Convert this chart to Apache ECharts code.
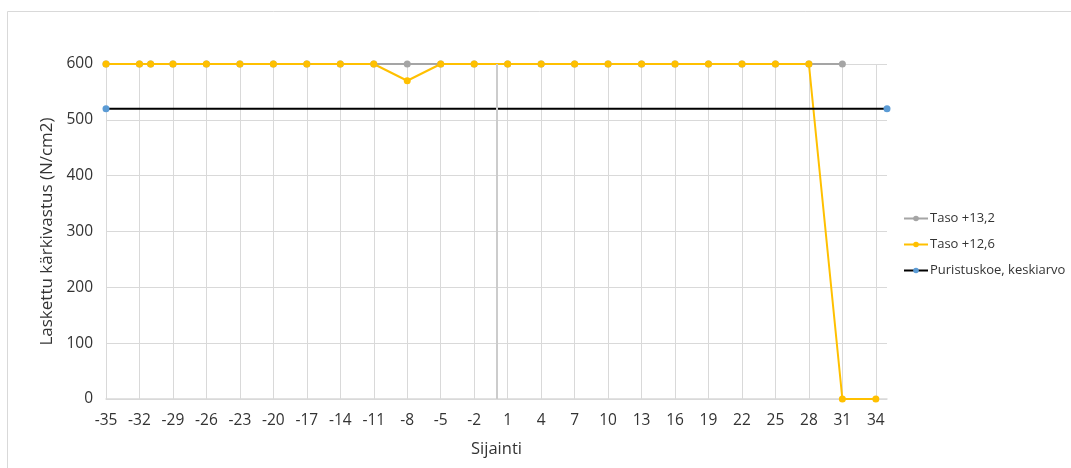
<!DOCTYPE html>
<html>
<head>
<meta charset="utf-8">
<script src="https://cdn.jsdelivr.net/npm/echarts@6/dist/echarts.min.js"></script>
<style>
  html, body { margin: 0; padding: 0; background: #fff; }
  #chart { width: 1071px; height: 468px; }
</style>
</head>
<body>
<div id="chart"></div>
<script>
// Sijainti positions and calculated tip resistance per level
const positionsUpper = [-35, -32, -31, -29, -26, -23, -20, -17, -14, -11, -8, -5, -2, 1, 4, 7, 10, 13, 16, 19, 22, 25, 28, 31];
const valuesUpper    = [600, 600, 600, 600, 600, 600, 600, 600, 600, 600, 600, 600, 600, 600, 600, 600, 600, 600, 600, 600, 600, 600, 600, 600];
const positionsLower = [-35, -32, -31, -29, -26, -23, -20, -17, -14, -11, -8, -5, -2, 1, 4, 7, 10, 13, 16, 19, 22, 25, 28, 31, 34];
const valuesLower    = [600, 600, 600, 600, 600, 600, 600, 600, 600, 600, 570, 600, 600, 600, 600, 600, 600, 600, 600, 600, 600, 600, 600, 0, 0];
const positionsTest  = [-35, 35];
const valuesTest     = [520, 520];

const seriesNames = ['Taso +13,2', 'Taso +12,6', 'Puristuskoe, keskiarvo'];
const xAxisTitle = 'Sijainti';
const yAxisTitle = 'Laskettu kärkivastus (N/cm2)';

const pair = (xs, ys) => xs.map((x, i) => [x, ys[i]]);

const font = "'Open Sans', 'Noto Sans', sans-serif";
const textColor = '#333333';
const gridColor = '#d9d9d9';

const chart = echarts.init(document.getElementById('chart'), null, { renderer: 'canvas' });
chart.setOption({
  animation: false,
  backgroundColor: '#fff',
  textStyle: { fontFamily: font },
  graphic: [{
    type: 'rect',
    shape: { x: 7.5, y: 11.5, width: 1100, height: 500 },
    style: { fill: 'none', stroke: '#d9d9d9', lineWidth: 1 },
    silent: true
  }],
  grid: { left: 106, right: 184, top: 64, bottom: 69, containLabel: false },
  legend: {
    orient: 'vertical',
    left: 898,
    top: 207,
    itemGap: 13,
    itemWidth: 24,
    itemHeight: 7,
    textStyle: { fontFamily: font, fontSize: 13, color: textColor, padding: [0, 0, 0, -3] },
    data: seriesNames
  },
  xAxis: {
    type: 'value',
    min: -35,
    max: 35,
    interval: 3,
    name: xAxisTitle,
    nameLocation: 'middle',
    nameGap: 42,
    nameTextStyle: { fontFamily: font, fontSize: 16.5, color: textColor },
    axisLine: { show: true, onZero: false, lineStyle: { color: gridColor, width: 1.5 } },
    axisTick: { show: false },
    axisLabel: { fontFamily: font, fontSize: 15.5, color: textColor, margin: 14, showMaxLabel: false },
    splitLine: { show: true, showMaxLine: false, lineStyle: { color: gridColor, width: 1 } }
  },
  yAxis: {
    type: 'value',
    min: 0,
    max: 600,
    interval: 100,
    name: yAxisTitle,
    nameLocation: 'middle',
    nameGap: 50,
    nameTextStyle: { fontFamily: font, fontSize: 17, color: textColor },
    axisLine: { show: false },
    axisTick: { show: false },
    axisLabel: { fontFamily: font, fontSize: 15.5, color: textColor, margin: 13 },
    splitLine: { show: true, lineStyle: { color: gridColor, width: 1 } }
  },
  series: [
    {
      name: seriesNames[0],
      type: 'line',
      data: pair(positionsUpper, valuesUpper),
      symbol: 'circle',
      symbolSize: 7,
      lineStyle: { color: '#a5a5a5', width: 2 },
      itemStyle: { color: '#a5a5a5' },
      markLine: {
        silent: true,
        symbol: 'none',
        label: { show: false },
        lineStyle: { color: '#cccccc', width: 2, type: 'solid' },
        data: [{ xAxis: 0 }]
      }
    },
    {
      name: seriesNames[1],
      type: 'line',
      data: pair(positionsLower, valuesLower),
      symbol: 'circle',
      symbolSize: 7,
      lineStyle: { color: '#ffc000', width: 2 },
      itemStyle: { color: '#ffc000' }
    },
    {
      name: seriesNames[2],
      type: 'line',
      data: pair(positionsTest, valuesTest),
      symbol: 'circle',
      symbolSize: 7,
      lineStyle: { color: '#000000', width: 2 },
      itemStyle: { color: '#5b9bd5' }
    }
  ]
});
</script>
</body>
</html>
